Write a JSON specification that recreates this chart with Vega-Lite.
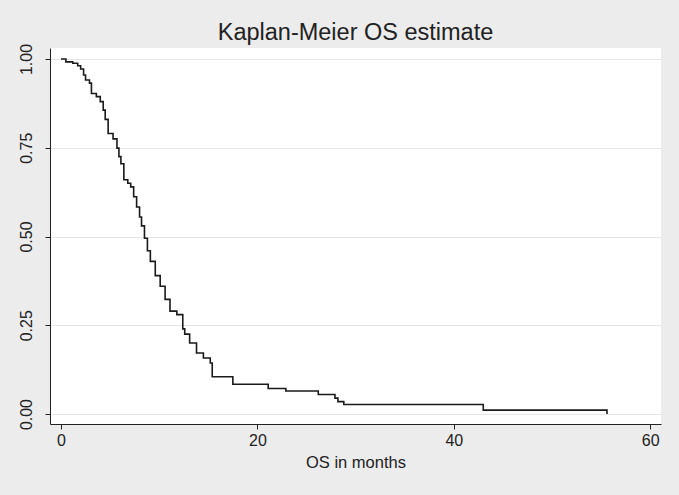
{
  "$schema": "https://vega.github.io/schema/vega-lite/v6.json",
  "width": 611,
  "height": 376,
  "autosize": {"type": "none"},
  "padding": {"left": 50, "top": 48, "right": 18, "bottom": 71},
  "background": "#ececec",
  "config": {
    "view": {"fill": "white", "stroke": null},
    "font": "Liberation Sans"
  },
  "title": {
    "text": "Kaplan-Meier OS estimate",
    "fontSize": 23.5,
    "fontWeight": "normal",
    "color": "#222222",
    "font": "Liberation Sans",
    "offset": -1,
    "anchor": "middle"
  },
  "data": {
    "values": [
      {"t": 0, "s": 1.0},
      {"t": 0.5, "s": 0.992},
      {"t": 1.2, "s": 0.988},
      {"t": 1.7, "s": 0.981},
      {"t": 2.0, "s": 0.972},
      {"t": 2.3, "s": 0.955},
      {"t": 2.5, "s": 0.941},
      {"t": 2.9, "s": 0.932},
      {"t": 3.1, "s": 0.903},
      {"t": 3.6, "s": 0.894},
      {"t": 4.0, "s": 0.880},
      {"t": 4.3, "s": 0.856},
      {"t": 4.5, "s": 0.830},
      {"t": 4.8, "s": 0.790},
      {"t": 5.3, "s": 0.775},
      {"t": 5.7, "s": 0.749},
      {"t": 5.9, "s": 0.725},
      {"t": 6.1, "s": 0.705},
      {"t": 6.4, "s": 0.660},
      {"t": 6.8, "s": 0.650},
      {"t": 7.1, "s": 0.640},
      {"t": 7.4, "s": 0.612},
      {"t": 7.7, "s": 0.583},
      {"t": 8.0, "s": 0.555},
      {"t": 8.2, "s": 0.530},
      {"t": 8.5, "s": 0.495},
      {"t": 8.8, "s": 0.460},
      {"t": 9.1, "s": 0.430},
      {"t": 9.6, "s": 0.390},
      {"t": 10.1, "s": 0.360},
      {"t": 10.6, "s": 0.323},
      {"t": 11.1, "s": 0.290},
      {"t": 11.8, "s": 0.280},
      {"t": 12.4, "s": 0.240},
      {"t": 12.6, "s": 0.225},
      {"t": 13.1, "s": 0.200},
      {"t": 13.8, "s": 0.172},
      {"t": 14.5, "s": 0.158},
      {"t": 15.2, "s": 0.144},
      {"t": 15.4, "s": 0.105},
      {"t": 17.5, "s": 0.084},
      {"t": 21.1, "s": 0.072},
      {"t": 22.9, "s": 0.065},
      {"t": 26.2, "s": 0.055},
      {"t": 27.9, "s": 0.045},
      {"t": 28.2, "s": 0.035},
      {"t": 28.8, "s": 0.027},
      {"t": 43.0, "s": 0.011},
      {"t": 55.6, "s": 0.0}
    ]
  },
  "mark": {"type": "line", "interpolate": "step-after", "color": "#1a1a1a", "strokeWidth": 1.6},
  "encoding": {
    "x": {
      "field": "t",
      "type": "quantitative",
      "scale": {"domain": [-1.12, 61.1], "nice": false, "zero": false},
      "axis": {
        "title": "OS in months",
        "values": [0, 20, 40, 60],
        "grid": false,
        "domainColor": "#222222",
        "tickColor": "#222222",
        "tickSize": 5,
        "labelFontSize": 16,
        "labelColor": "#222222",
        "labelPadding": 3,
        "labelFont": "Liberation Sans",
        "titleFont": "Liberation Sans",
        "titleFontSize": 16.5,
        "titleFontWeight": "normal",
        "titleColor": "#222222",
        "titlePadding": 6
      }
    },
    "y": {
      "field": "s",
      "type": "quantitative",
      "scale": {"domain": [-0.028, 1.031], "nice": false, "zero": false},
      "axis": {
        "title": null,
        "values": [0, 0.25, 0.5, 0.75, 1],
        "format": ".2f",
        "grid": true,
        "gridColor": "#e6e6e6",
        "gridWidth": 1,
        "domainColor": "#222222",
        "tickColor": "#222222",
        "tickSize": 5,
        "labelFontSize": 16,
        "labelColor": "#222222",
        "labelAngle": -90,
        "labelAlign": "center",
        "labelBaseline": "bottom",
        "labelPadding": 11,
        "labelFont": "Liberation Sans"
      }
    }
  }
}
